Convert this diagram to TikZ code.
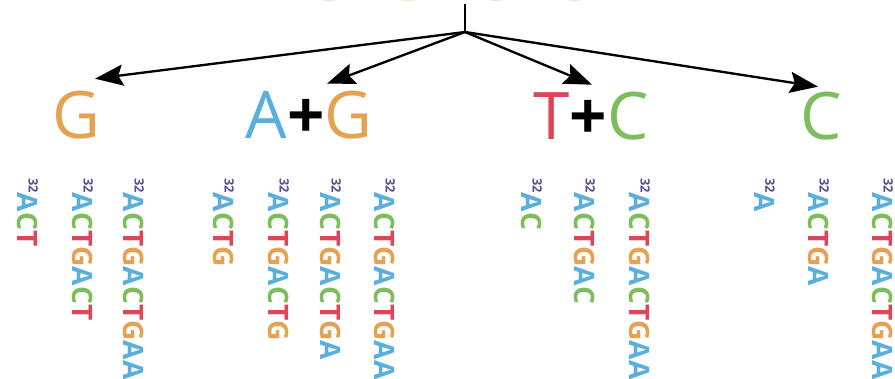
\documentclass[tikz,border=0pt]{standalone}
\usepackage{fontspec}
\setmainfont{Open Sans}
\usetikzlibrary{arrows.meta}

\definecolor{baseA}{HTML}{5BAFDD}
\definecolor{baseC}{HTML}{7DBD5C}
\definecolor{baseT}{HTML}{DC4658}
\definecolor{baseG}{HTML}{E4A353}
\definecolor{mark}{HTML}{5E4C8E}

% colour each base of a strand
\def\dna#1{\dnastep#1\relax}
\def\dnastep#1{\ifx#1\relax\else\textcolor{base#1}{#1}\expandafter\dnastep\fi}
\newcommand\pmark{\raisebox{9pt}{\fontsize{11}{11}\selectfont\color{mark}32}}

\tikzset{
  lbl/.style={inner sep=0pt,font=\fontsize{56}{56}\selectfont},
  strand/.style={inner sep=0pt,anchor=west,rotate=-90,font=\fontsize{24}{24}\selectfont\bfseries},
  fan/.style={line width=2pt,-{Stealth[length=24pt,width=18pt,inset=4pt]}}
}

\begin{document}
\begin{tikzpicture}[x=0.03cm,y=-0.03cm]
\useasboundingbox (0,0) rectangle (895,378);

%Molecola di partenza
\node[lbl,anchor=base,opacity=0.5] (full) at (470,0.5) {\dna{ACTGACTGAA}};

\coordinate (top) at (465,4);
\coordinate (root) at (465,32);
\draw[line width=2pt] (top) -- (root);

%Reazioni
\node[lbl] (lblG) at (76,115) {\dna{G}};
\node[lbl] (lblAG) at (309,115) {\dna{A}\textbf{+}\dna{G}};
\node[lbl] (lblTC) at (591,116) {\dna{T}\textbf{+}\dna{C}};
\node[lbl] (lblC) at (821,116) {\dna{C}};

\draw[fan] (root) -- ([shift={(19,-12)}]lblG.north);
\draw[fan] (root) -- ([shift={(18,-7)}]lblAG.north);
\draw[fan] (root) -- ([shift={(1,-7)}]lblTC.north);
\draw[fan] (root) -- ([shift={(-3,-5)}]lblC.north);

%Frammenti
\foreach \x/\s [count=\i] in {28/ACT,83/ACTGACT,134/ACTGACTGAA,
  224/ACTG,279/ACTGACTG,331/ACTGACTGA,385/ACTGACTGAA,
  532/AC,585/ACTGAC,640/ACTGACTGAA,
  765/A,819/ACTGA,883/ACTGACTGAA}
  \node[strand] (frag\i) at (\x,178) {\pmark\expandafter\dna\expandafter{\s}};

\end{tikzpicture}
\end{document}
